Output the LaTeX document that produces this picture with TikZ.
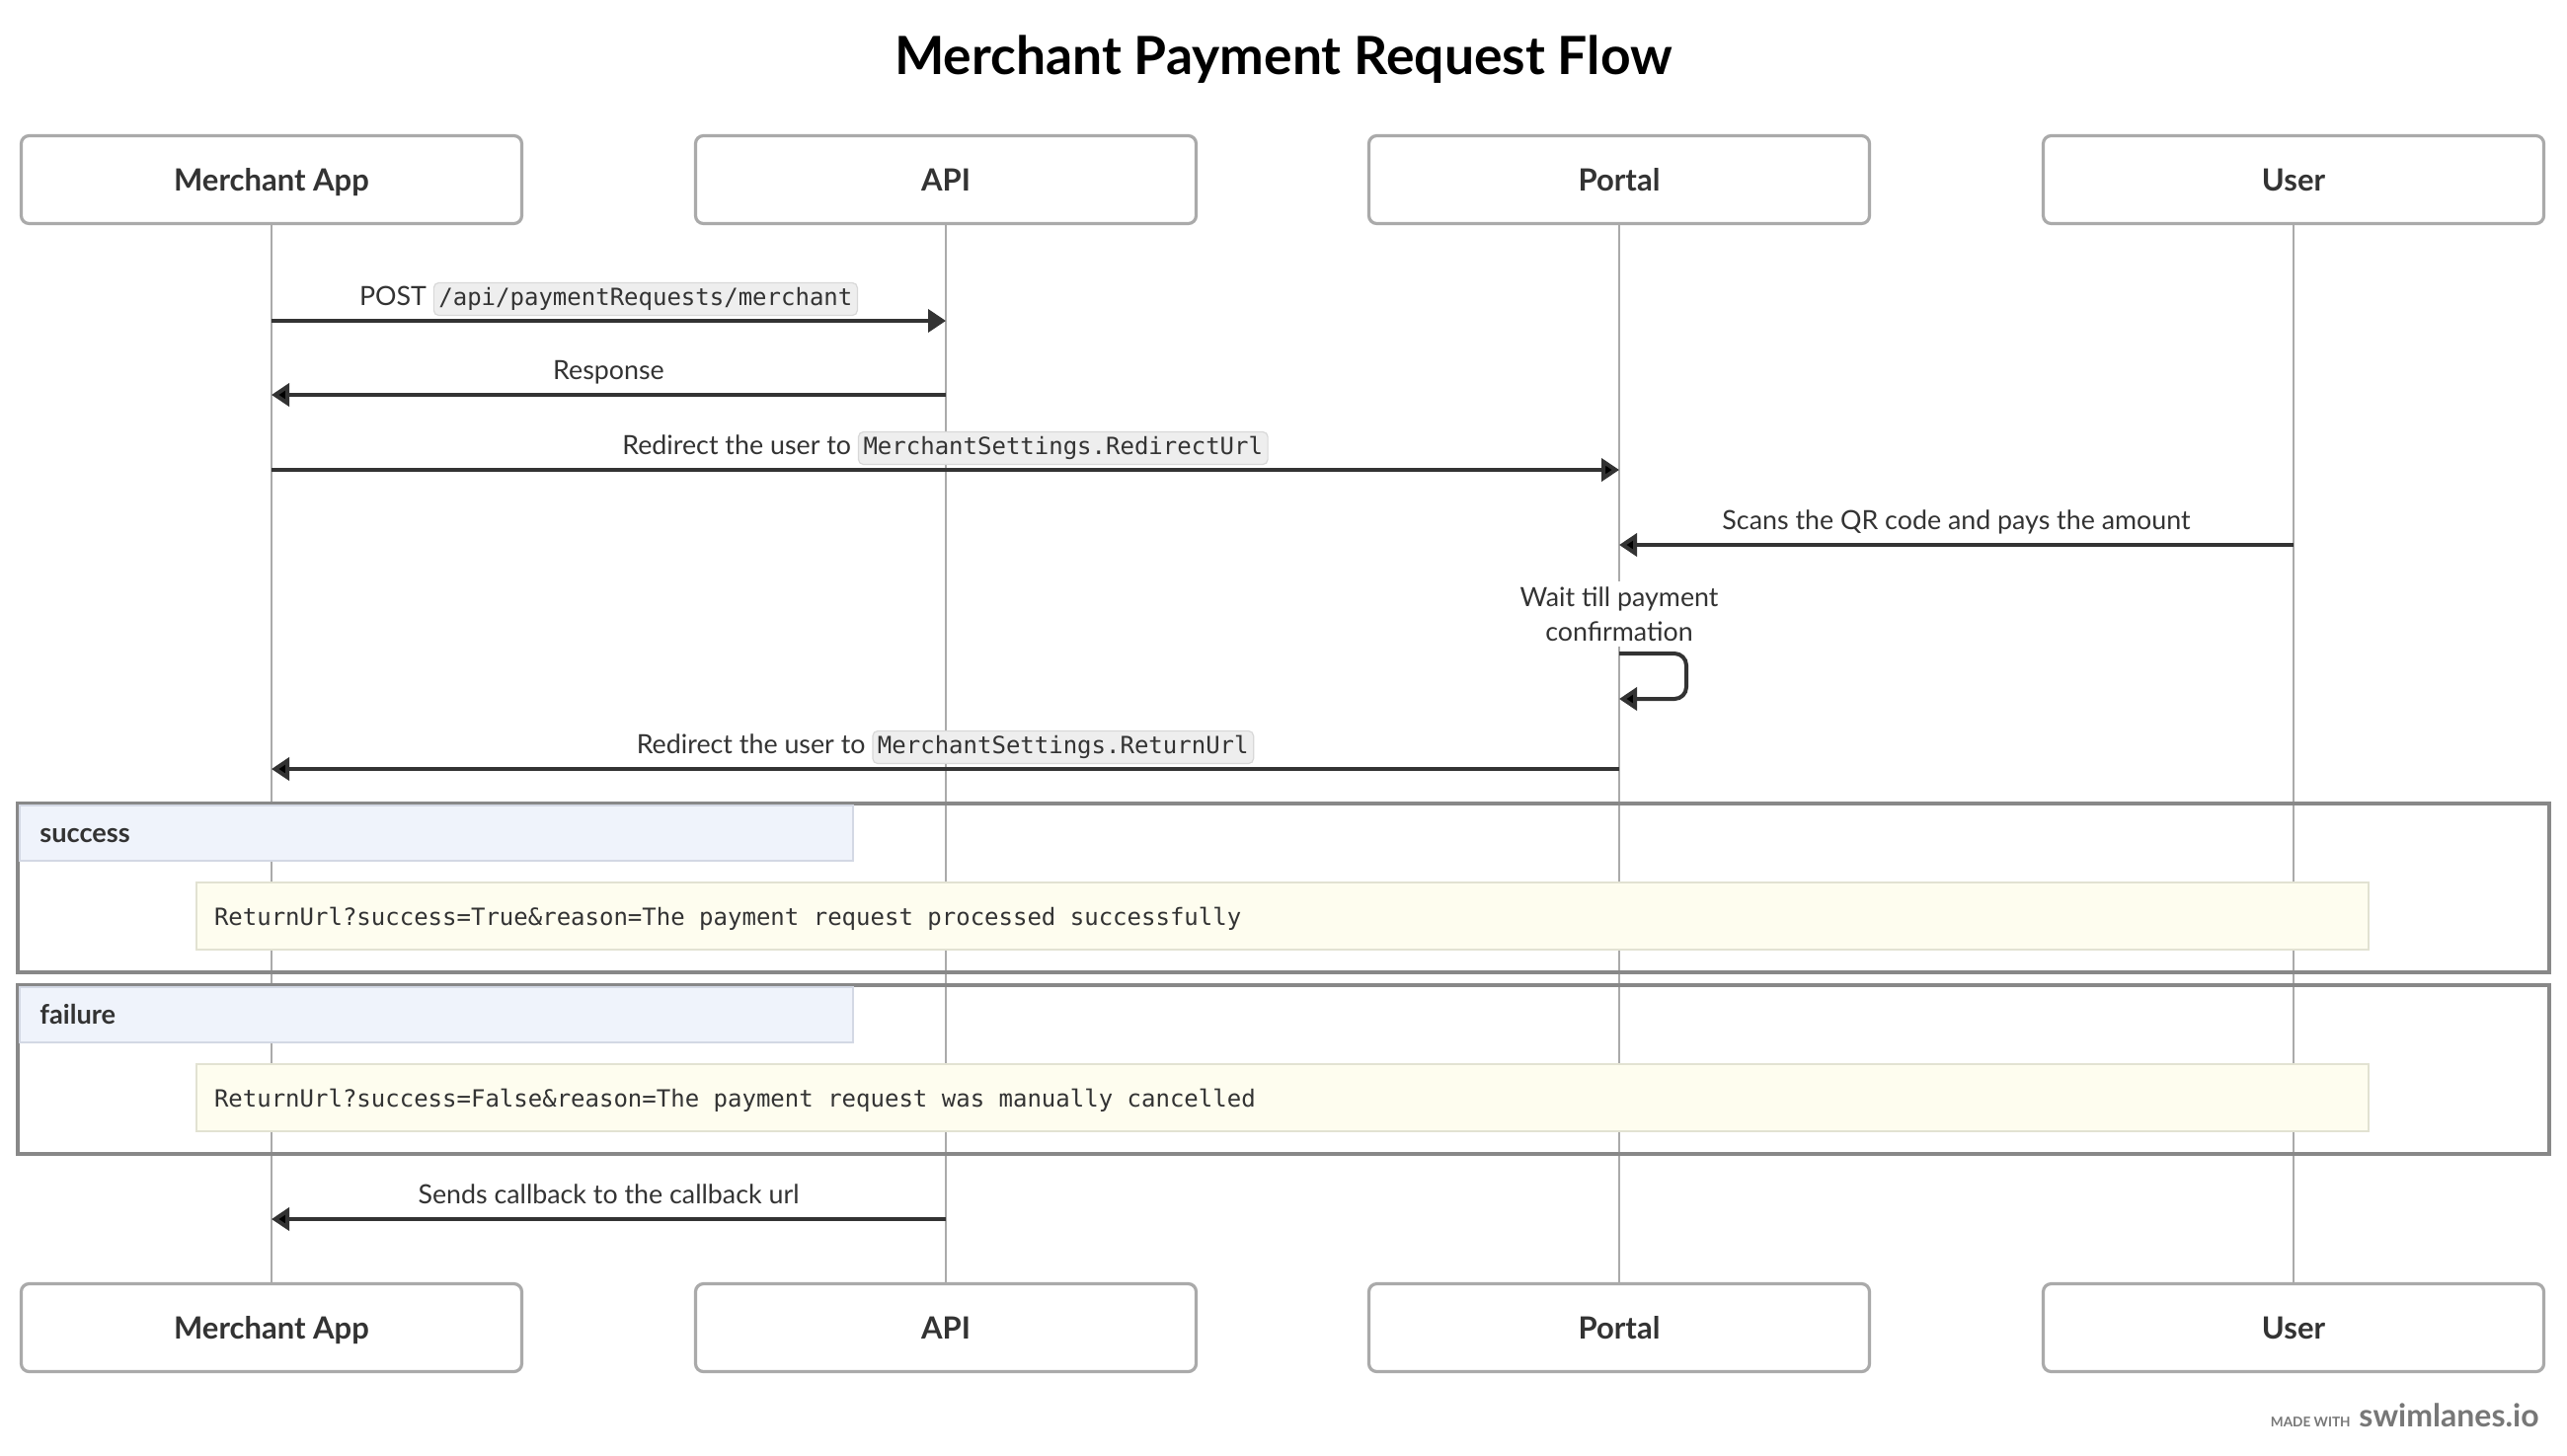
\documentclass[tikz,border=0pt]{standalone}
\usepackage{fontspec}
\setmainfont{Lato}
\setmonofont{DejaVu Sans Mono}
\usetikzlibrary{arrows.meta}
\definecolor{ink}{HTML}{333333}
\definecolor{lane}{HTML}{AAAAAA}
\definecolor{fragline}{HTML}{888888}
\definecolor{hdrfill}{HTML}{EFF3FB}
\definecolor{hdrline}{HTML}{D3D8E4}
\definecolor{notefill}{HTML}{FEFDEF}
\definecolor{noteline}{HTML}{E2E2D2}
\definecolor{codefill}{HTML}{EEEEEE}
\definecolor{codeline}{HTML}{D8D8D8}
\definecolor{brandgray}{HTML}{777777}
\tikzset{
  actor/.style={draw=lane, line width=1.6pt, rounded corners=4pt, fill=white,
    minimum width=253.5pt, minimum height=44.5pt, text=ink,
    text height=15pt, text depth=4pt,
    font=\fontsize{15.5}{18}\selectfont\bfseries},
  life/.style={draw=lane, line width=1.25pt},
  msg/.style={draw=ink, line width=2pt, -{Triangle[length=9pt,width=11.5pt]}},
  lbl/.style={text=ink, inner sep=1pt, anchor=base, font=\fontsize{13.4}{17.5}\selectfont},
  codebg/.style={fill=codefill, draw=codeline, line width=0.6pt, rounded corners=2.5pt,
    inner xsep=2.5pt, inner ysep=2.5pt, text height=9pt, text depth=2.5pt, text=ink,
    font=\ttfamily\fontsize{12}{14}\selectfont},
  frag/.style={draw=fragline, line width=1.8pt},
  fraghdr/.style={fill=hdrfill, draw=hdrline, line width=0.6pt},
  fragname/.style={text=ink, inner sep=0pt, anchor=base west,
    font=\fontsize{13.6}{17}\selectfont\bfseries},
  note/.style={fill=notefill, draw=noteline, line width=0.6pt, minimum height=34pt,
    text width=1082pt, align=left, inner xsep=9pt, text height=9pt, text depth=0pt, text=ink,
    font=\ttfamily\fontsize{12}{14}\selectfont}
}
\newcommand{\fixsp}{\spaceskip=0.602em\relax}
\newcommand{\codebox}[1]{\tikz[baseline=(c.base)]\node[codebg] (c) {#1};}
\begin{document}
\begin{tikzpicture}[x=0.5pt,y=-0.5pt]
  \useasboundingbox (0,0) rectangle (2600,1474);
  \node[anchor=base, text=black, font=\fontsize{26.7}{31}\selectfont\bfseries] (title) at (1300,75) {Merchant Payment Request Flow};

  % participants, top and bottom
  \foreach \n/\x/\t in {ma/275/Merchant App, api/958/API, portal/1640/Portal, user/2323/User} {
    \draw[life] (\x,227) -- (\x,1300);
    \node[actor] (\n) at (\x,182) {\t};
    \node[actor] (\n b) at (\x,1345) {\t};
  }

  % alt blocks
  \draw[frag] (18,814) rectangle (2582,985);
  \draw[fraghdr] (20,816) rectangle (864,872);
  \node[fragname] (okname) at (40,853) {success};
  \node[note] (oknote) at (1299,928) {\fixsp ReturnUrl?success=True\&reason=The payment request processed successfully};

  \draw[frag] (18,998) rectangle (2582,1169);
  \draw[fraghdr] (20,1000) rectangle (864,1056);
  \node[fragname] (failname) at (40,1037) {failure};
  \node[note] (failnote) at (1299,1112) {\fixsp ReturnUrl?success=False\&reason=The payment request was manually cancelled};

  % messages
  \draw[msg] (ma |- 0,325) -- (api |- 0,325);
  \node[lbl] (m1) at (616.5,309.5) {POST \codebox{/api/paymentRequests/merchant}};
  \draw[msg] (api |- 0,400) -- (ma |- 0,400);
  \node[lbl] (m2) at (616.5,384.5) {Response};
  \draw[msg] (ma |- 0,476) -- (portal |- 0,476);
  \node[lbl] (m3) at (957.5,460.5) {Redirect the user to \codebox{MerchantSettings.RedirectUrl}};
  \draw[msg] (user |- 0,552) -- (portal |- 0,552);
  \node[lbl] (m4) at (1981.5,536.5) {Scans the QR code and pays the amount};
  \node[lbl, anchor=center, fill=white, align=center, inner sep=3pt] (wait) at (1640,622) {Wait till payment\\confirmation};
  \draw[msg, rounded corners=6pt] (portal |- 0,662) -- (1708,662) -- (1708,708) -- (portal |- 0,708);
  \draw[msg] (portal |- 0,779) -- (ma |- 0,779);
  \node[lbl] (m6) at (957.5,763.5) {Redirect the user to \codebox{MerchantSettings.ReturnUrl}};
  \draw[msg] (api |- 0,1235) -- (ma |- 0,1235);
  \node[lbl] (m7) at (616.5,1219.5) {Sends callback to the callback url};

  % watermark
  \node[anchor=base east, inner sep=0pt, text=brandgray, font=\fontsize{16}{18}\selectfont\bfseries] (brand) at (2572,1445) {swimlanes.io};
  \node[anchor=base east, inner sep=0pt, xshift=-4pt, text=brandgray, font=\fontsize{6.8}{8}\selectfont\bfseries] (made) at (brand.base west) {MADE WITH};
\end{tikzpicture}
\end{document}
